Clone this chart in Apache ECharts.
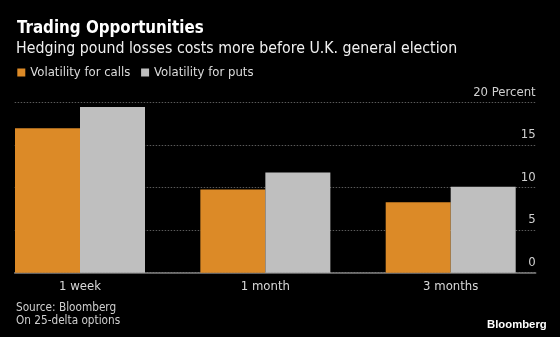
<!DOCTYPE html>
<html>
<head>
<meta charset="utf-8">
<script src="https://cdn.jsdelivr.net/npm/echarts@6/dist/echarts.min.js"></script>
<style>
  html, body { margin: 0; padding: 0; background: #000; }
  #chart { width: 560px; height: 337px; }
</style>
</head>
<body>
<div id="chart"></div>
<script>
// Option tenors and implied volatility (percent)
const tenors = ['1 week', '1 month', '3 months'];
const callVol = [17.0, 9.8, 8.3];
const putVol = [19.5, 11.8, 10.1];
const yTicks = [0, 5, 10, 15, 20];

const FONT = '"DejaVu Sans Condensed", "Liberation Sans Narrow", sans-serif';
const ORANGE = '#dc8a27';
const GREY = '#bfbfbf';

const chart = echarts.init(document.getElementById('chart'), null, { renderer: 'canvas' });

// Plot frame: gridlines and baseline span this box
const PLOT = { left: 14.7, right: 24.3, top: 102.7, bottom: 64.3 };
// Bar layer: category centres placed at the box edges (boundaryGap off)
const BARS = { left: 80, right: 109.3, top: PLOT.top, bottom: PLOT.bottom };

chart.setOption({
  backgroundColor: '#000',
  animation: false,
  textStyle: { fontFamily: FONT },
  title: [
    { text: 'Trading Opportunities', left: 12, top: 15,
      textStyle: { color: '#fff', fontSize: 16.8, fontWeight: 'bold', fontFamily: FONT } },
    { text: 'Hedging pound losses costs more before U.K. general election', left: 11, top: 36,
      textStyle: { color: '#f0f0f0', fontSize: 15.75, fontWeight: 'normal', fontFamily: FONT } },
    { text: 'Source: Bloomberg\nOn 25-delta options', left: 11, top: 297,
      textStyle: { color: '#cfcfcf', fontSize: 11.7, fontWeight: 'normal', lineHeight: 12.7, fontFamily: FONT } },
    { text: 'Bloomberg', right: 8.3, top: 314,
      textStyle: { color: '#fff', fontSize: 11.3, fontWeight: 'bold', fontFamily: '"Liberation Sans", Arial, sans-serif' } }
  ],
  legend: {
    left: 12.3, top: 61, icon: 'rect', itemWidth: 8, itemHeight: 8, itemGap: 10.7,
    textStyle: { color: '#dcdcdc', fontSize: 13, fontFamily: FONT }
  },
  grid: [
    Object.assign({}, PLOT),
    Object.assign({}, BARS)
  ],
  xAxis: [
    { type: 'category', gridIndex: 0, data: tenors, boundaryGap: true,
      axisLine: { show: true, lineStyle: { color: '#808080', width: 1.5 } },
      axisTick: { show: false }, axisLabel: { show: false }, splitLine: { show: false } },
    { type: 'category', gridIndex: 1, data: tenors, boundaryGap: false,
      axisLine: { show: false }, axisTick: { show: false }, splitLine: { show: false },
      axisLabel: { color: '#d8d8d8', fontSize: 13, margin: 7, fontFamily: FONT } }
  ],
  yAxis: [
    { type: 'value', gridIndex: 0, position: 'right', min: 0, max: 20, interval: 5,
      axisLine: { show: false }, axisTick: { show: false },
      axisLabel: {
        inside: true, margin: 0, color: '#d0d0d0', fontSize: 13, fontFamily: FONT,
        align: 'right', verticalAlign: 'bottom', padding: [0, 0, 4, 0],
        formatter: v => (v === yTicks[yTicks.length - 1] ? v + ' Percent' : String(v))
      },
      splitLine: { show: true, lineStyle: { color: '#5a5a5a', type: [1.5, 1.5], width: 1 } } },
    { type: 'value', gridIndex: 1, min: 0, max: 20, interval: 5, show: false }
  ],
  series: [
    { name: 'Volatility for calls', type: 'bar', xAxisIndex: 1, yAxisIndex: 1, clip: false,
      data: callVol, barWidth: 65, barGap: '0%', itemStyle: { color: ORANGE } },
    { name: 'Volatility for puts', type: 'bar', xAxisIndex: 1, yAxisIndex: 1, clip: false,
      data: putVol, barWidth: 65, barGap: '0%', itemStyle: { color: GREY } }
  ]
});
</script>
</body>
</html>
